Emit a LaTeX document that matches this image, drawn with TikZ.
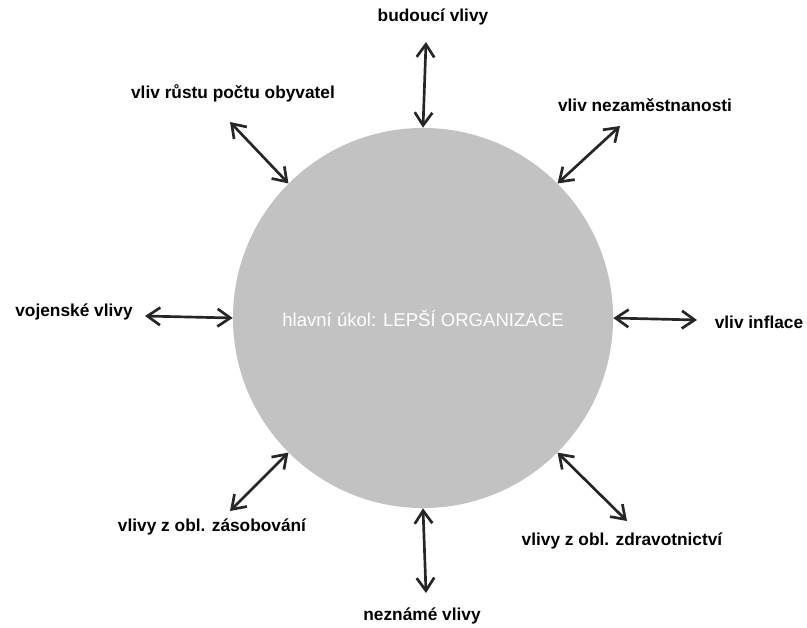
\documentclass[tikz,border=0pt]{standalone}
\usepackage{fontspec}
\setmainfont{Liberation Sans}
\usepackage{xcolor}
\usetikzlibrary{arrows.meta,positioning}

\begin{document}
\begin{tikzpicture}[x=0.025cm, y=-0.025cm,
    hub/.style={circle, fill=black!24, minimum size=9.5cm, inner sep=0pt,
                font=\fontsize{13.2}{15}\selectfont, text=white},
    vliv/.style={font=\fontsize{12.3}{14}\selectfont\bfseries, inner sep=1pt},
    biarrow/.style={{Straight Barb[length=3.2mm, width=4.4mm]}-{Straight Barb[length=3.2mm, width=4.4mm]},
                    line width=1.9pt, color=black!85}
]
\useasboundingbox (0,0) rectangle (807,627);

%% Main task
\node[hub] (ukol) at (423,318) {hlavní úkol: LEPŠÍ ORGANIZACE};

%% Influences
\node[vliv] (budouci) at (433,17) {budoucí vlivy};
\node[vliv] (nezam) at (645,105) {vliv nezaměstnanosti};
\node[vliv] (inflace) at (759,322) {vliv inflace};
\node[vliv] (zdrav) at (622,541) {vlivy z obl. zdravotnictví};
\node[vliv] (neznam) at (422,616) {neznámé vlivy};
\node[vliv] (zasob) at (212,527) {vlivy z obl. zásobování};
\node[vliv] (vojen) at (74,312) {vojenské vlivy};
\node[vliv] (obyv) at (233,93) {vliv růstu počtu obyvatel};

%% Free arrow ends
\coordinate (budouci-end) at (426,42);
\coordinate (nezam-end) at (620,126);
\coordinate (inflace-end) at (697,320);
\coordinate (zdrav-end) at (627,521);
\coordinate (neznam-end) at (426,593);
\coordinate (zasob-end) at (230,511);
\coordinate (vojen-end) at (145,316);
\coordinate (obyv-end) at (230,122);

%% Arrows
\draw[biarrow] (budouci-end) -- (ukol.90);
\draw[biarrow] (nezam-end) -- (ukol.45);
\draw[biarrow] (inflace-end) -- (ukol.0);
\draw[biarrow] (zdrav-end) -- (ukol.-45);
\draw[biarrow] (neznam-end) -- (ukol.-90);
\draw[biarrow] (zasob-end) -- (ukol.-135);
\draw[biarrow] (vojen-end) -- (ukol.180);
\draw[biarrow] (obyv-end) -- (ukol.135);

\end{tikzpicture}
\end{document}
